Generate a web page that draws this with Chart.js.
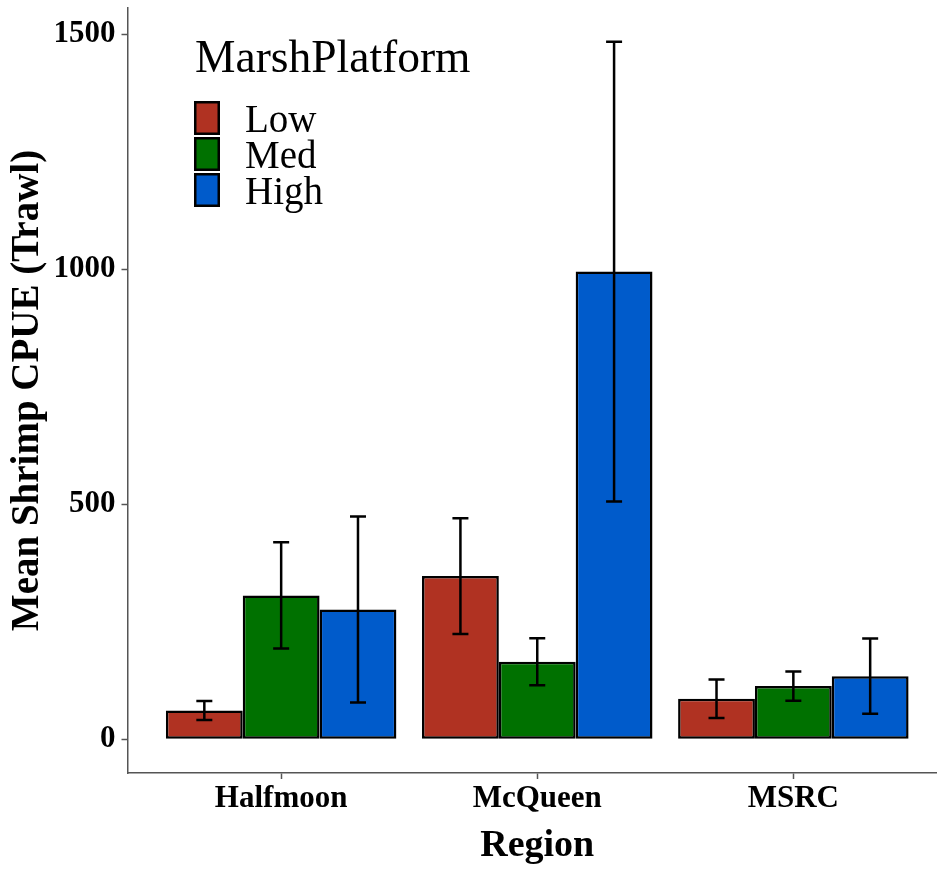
<!DOCTYPE html>
<html>
<head>
<meta charset="utf-8">
<script src="https://cdn.jsdelivr.net/npm/chart.js@4.4.1/dist/chart.umd.min.js"></script>
<style>
  html, body { margin: 0; padding: 0; background: #fff; overflow: hidden; }
  canvas { display: block; }
</style>
</head>
<body>
<!-- panel runs a little past the right edge of the window -->
<canvas id="cpueChart" width="947" height="869"></canvas>
<script>
// mean shrimp CPUE per region, split by marsh platform elevation
const regions = ['Halfmoon', 'McQueen', 'MSRC'];
const platforms = ['Low', 'Med', 'High'];
const lowMean = [61, 347, 86];
const medMean = [306, 165, 113];
const highMean = [276, 995, 134];
// standard errors (half length of the whiskers)
const lowSE = [20, 123, 41];
const medSE = [113, 50, 31];
const highSE = [198, 489, 80];
const yTicks = [0, 500, 1000, 1500];

const colors = ['#B03222', '#007100', '#005BCB'];
const serif = "'Liberation Serif', 'Times New Roman', serif";

const means = [lowMean, medMean, highMean];
const ses = [lowSE, medSE, highSE];

const datasets = platforms.map((p, i) => ({
  label: p,
  data: means[i].map((v, j) => ({ x: j, y: v })),
  se: ses[i],
  backgroundColor: colors[i],
  borderColor: '#000',
  borderWidth: 2.5,
  borderSkipped: false,
  categoryPercentage: 0.9,
  barPercentage: 1.0
}));

// whiskers drawn on top of the bars
const errorBars = {
  id: 'errorBars',
  afterDatasetsDraw(chart) {
    const ctx = chart.ctx;
    const y = chart.scales.y;
    chart.data.datasets.forEach((ds, i) => {
      chart.getDatasetMeta(i).data.forEach((bar, j) => {
        const m = ds.data[j].y;
        const top = y.getPixelForValue(m + ds.se[j]);
        const bot = y.getPixelForValue(m - ds.se[j]);
        ctx.save();
        ctx.strokeStyle = '#000';
        ctx.lineWidth = 2.5;
        ctx.beginPath();
        ctx.moveTo(bar.x, top); ctx.lineTo(bar.x, bot);
        ctx.moveTo(bar.x - 8, top); ctx.lineTo(bar.x + 8, top);
        ctx.moveTo(bar.x - 8, bot); ctx.lineTo(bar.x + 8, bot);
        ctx.stroke();
        ctx.restore();
      });
    });
  }
};

// legend sits inside the panel, top left
const insideLegend = {
  id: 'insideLegend',
  afterDraw(chart) {
    const ctx = chart.ctx;
    ctx.save();
    ctx.fillStyle = '#000';
    ctx.textBaseline = 'alphabetic';
    ctx.textAlign = 'left';
    ctx.font = '45.5px ' + serif;
    ctx.fillText('MarshPlatform', 195, 72);
    ctx.font = '39px ' + serif;
    chart.data.datasets.forEach((ds, i) => {
      const top = 101 + i * 36;
      ctx.fillStyle = ds.backgroundColor;
      ctx.fillRect(194, top, 26, 34);
      ctx.strokeStyle = '#000';
      ctx.lineWidth = 2.5;
      ctx.strokeRect(195.25, top + 1.25, 23.5, 31.5);
      ctx.fillStyle = '#000';
      ctx.fillText(ds.label, 245, top + 30.5);
    });
    ctx.restore();
  }
};

new Chart(document.getElementById('cpueChart'), {
  type: 'bar',
  data: { datasets: datasets },
  plugins: [errorBars, insideLegend],
  options: {
    responsive: false,
    animation: false,
    layout: { padding: { top: 8, right: 0, left: 0, bottom: 0 } },
    plugins: {
      legend: { display: false },
      tooltip: { enabled: false }
    },
    scales: {
      x: {
        type: 'linear',
        min: -0.6,
        max: 2.6,
        offset: false,
        afterBuildTicks: s => { s.ticks = regions.map((r, i) => ({ value: i })); },
        afterFit: s => { s.height = 96; s.paddingLeft = 0; s.paddingRight = 0; },
        ticks: {
          callback: v => regions[v],
          font: { family: serif, size: 31, weight: 'bold' },
          color: '#000',
          padding: 1,
          maxRotation: 0,
          autoSkip: false
        },
        grid: { offset: false, drawOnChartArea: false, tickLength: 6, color: '#555', tickWidth: 1.5 },
        border: { color: '#555', width: 1.5 },
        title: {
          display: true,
          text: 'Region',
          color: '#000',
          font: { family: serif, size: 38, weight: 'bold' },
          padding: { top: 0, bottom: 0 }
        }
      },
      y: {
        min: -72,
        max: 1556,
        afterBuildTicks: s => { s.ticks = yTicks.map(v => ({ value: v })); },
        afterFit: s => { s.width = 127.5; s.paddingTop = 0; s.paddingBottom = 0; },
        ticks: {
          callback: v => String(v),
          font: { family: serif, size: 31, weight: 'bold' },
          color: '#000',
          padding: 6
        },
        grid: { drawOnChartArea: false, tickLength: 6, color: '#555', tickWidth: 1.5 },
        border: { color: '#555', width: 1.5 },
        title: {
          display: true,
          text: 'Mean Shrimp CPUE (Trawl)',
          color: '#000',
          font: { family: serif, size: 39, weight: 'bold' },
          padding: { top: 5, bottom: 0 }
        }
      }
    }
  }
});
</script>
</body>
</html>
